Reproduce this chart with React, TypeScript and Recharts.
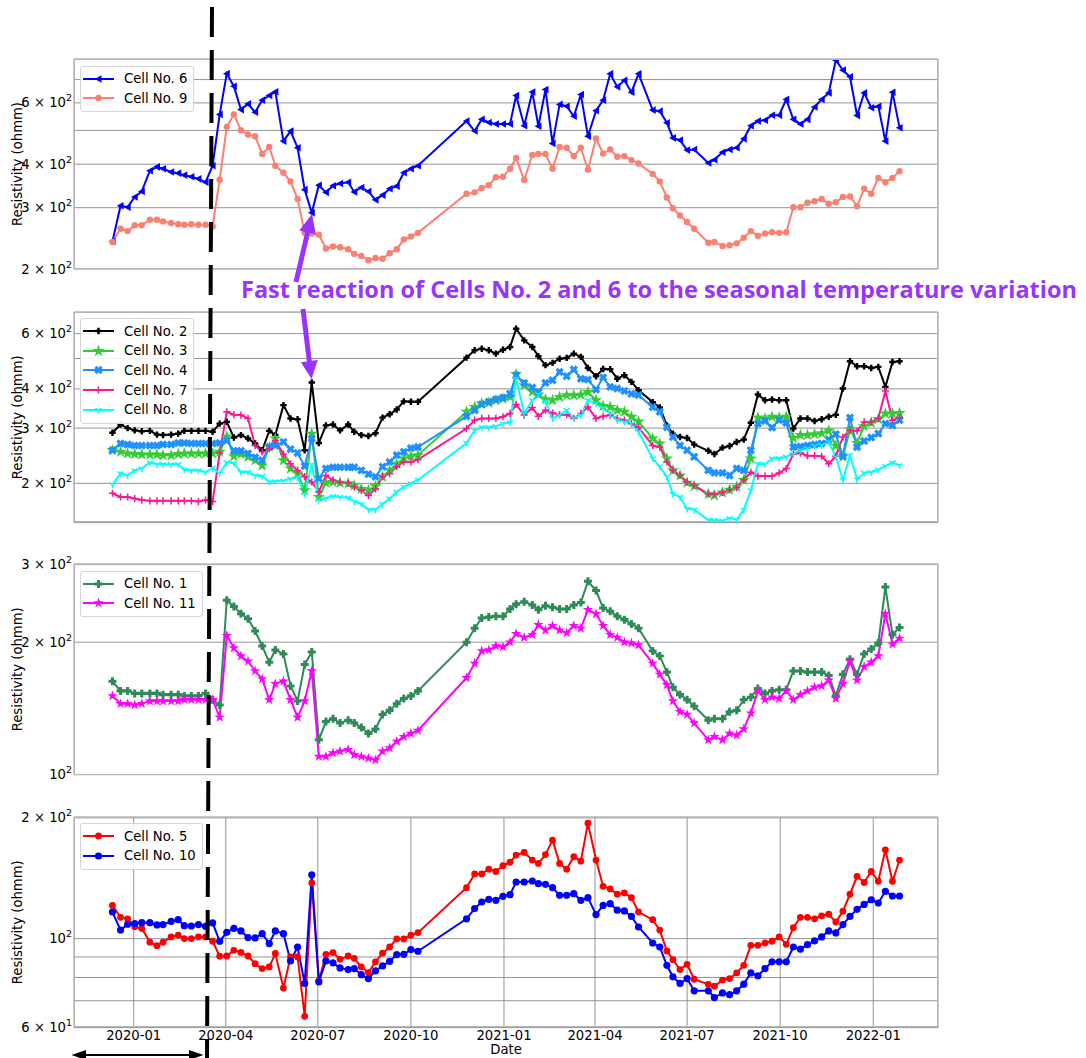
import { LineChart, Line, XAxis, YAxis, CartesianGrid } from 'recharts'

// measurement dates (weekly readings, gap in autumn 2020)
const DATES = [
  '2019-12-11', '2019-12-19', '2019-12-26', '2020-01-02', '2020-01-09', '2020-01-17', '2020-01-24', '2020-01-30', '2020-02-07', '2020-02-14',
  '2020-02-20', '2020-02-27', '2020-03-05', '2020-03-12', '2020-03-19', '2020-03-26', '2020-04-02', '2020-04-09', '2020-04-16', '2020-04-23',
  '2020-04-30', '2020-05-07', '2020-05-14', '2020-05-20', '2020-05-28', '2020-06-04', '2020-06-11', '2020-06-18', '2020-06-25', '2020-07-02',
  '2020-07-09', '2020-07-16', '2020-07-23', '2020-07-31', '2020-08-06', '2020-08-13', '2020-08-20', '2020-08-27', '2020-09-03', '2020-09-10',
  '2020-09-17', '2020-09-24', '2020-10-01', '2020-10-08', '2020-11-25', '2020-12-03', '2020-12-10', '2020-12-17', '2020-12-24', '2020-12-31',
  '2021-01-07', '2021-01-13', '2021-01-21', '2021-01-29', '2021-02-04', '2021-02-11', '2021-02-18', '2021-02-25', '2021-03-04', '2021-03-11',
  '2021-03-18', '2021-03-25', '2021-04-02', '2021-04-09', '2021-04-16', '2021-04-23', '2021-04-30', '2021-05-07', '2021-05-14', '2021-05-28',
  '2021-06-04', '2021-06-11', '2021-06-17', '2021-06-24', '2021-07-01', '2021-07-08', '2021-07-22', '2021-07-28', '2021-08-05', '2021-08-12',
  '2021-08-19', '2021-08-26', '2021-09-02', '2021-09-09', '2021-09-16', '2021-09-23', '2021-09-30', '2021-10-07', '2021-10-14', '2021-10-21',
  '2021-10-28', '2021-11-04', '2021-11-11', '2021-11-18', '2021-11-25', '2021-12-02', '2021-12-09', '2021-12-16', '2021-12-23', '2021-12-30',
  '2022-01-06', '2022-01-13', '2022-01-20', '2022-01-27',
]

const CELL_6 = [
  240, 304, 301, 322, 334, 383, 393, 388, 380, 377, 372, 368, 363, 355, 396, 556, 728, 670, 574, 596,
  564, 611, 630, 646, 466, 498, 446, 338, 290, 348, 332, 347, 352, 355, 333, 343, 334, 316, 326, 340,
  346, 378, 388, 396, 532, 498, 538, 527, 522, 522, 522, 630, 516, 645, 514, 655, 459, 594, 587, 549,
  634, 481, 570, 611, 727, 667, 697, 644, 727, 572, 568, 526, 476, 469, 439, 441, 403, 412, 433, 441,
  446, 473, 516, 532, 535, 553, 553, 614, 538, 522, 538, 584, 614, 641, 796, 745, 713, 552, 641, 581,
  587, 466, 644, 509,
]
const CELL_9 = [
  239, 261, 257, 267, 267, 277, 277, 274, 271, 269, 268, 269, 268, 268, 265, 361, 512, 556, 501, 487,
  481, 428, 448, 396, 378, 357, 318, 254, 253, 251, 229, 232, 231, 228, 221, 218, 212, 215, 214, 222,
  228, 243, 248, 254, 329, 332, 342, 348, 367, 368, 388, 417, 360, 425, 428, 428, 388, 448, 446, 422,
  446, 386, 474, 429, 441, 420, 422, 411, 402, 375, 357, 321, 299, 285, 273, 261, 238, 239, 233, 234,
  237, 246, 257, 249, 253, 255, 254, 255, 301, 301, 310, 313, 318, 308, 311, 322, 323, 303, 340, 329,
  365, 355, 365, 382,
]
const CELL_2 = [
  290, 308, 300, 295, 293, 294, 286, 285, 286, 288, 294, 294, 294, 294, 292, 310, 314, 280, 285, 278,
  268, 255, 294, 285, 355, 322, 320, 255, 419, 269, 306, 308, 295, 308, 292, 285, 283, 289, 324, 332,
  344, 365, 364, 364, 503, 531, 537, 531, 518, 533, 544, 622, 571, 544, 508, 476, 484, 499, 502, 518,
  506, 466, 439, 463, 462, 431, 442, 421, 396, 363, 349, 306, 288, 281, 279, 266, 254, 248, 260, 263,
  271, 276, 312, 384, 368, 370, 368, 368, 299, 322, 322, 316, 320, 326, 331, 401, 490, 472, 472, 466,
  470, 406, 487, 490,
]
const CELL_3 = [
  255, 252, 249, 248, 247, 247, 247, 246, 246, 248, 249, 249, 249, 249, 249, 252, 282, 244, 248, 243,
  237, 228, 261, 278, 237, 223, 215, 190, 288, 181, 201, 202, 201, 200, 197, 192, 190, 196, 210, 220,
  231, 240, 244, 246, 338, 350, 359, 361, 368, 372, 377, 445, 411, 392, 384, 371, 368, 377, 382, 382,
  383, 391, 368, 353, 350, 342, 338, 326, 315, 278, 268, 240, 220, 212, 201, 196, 185, 183, 187, 191,
  195, 205, 240, 324, 322, 326, 324, 326, 279, 285, 285, 287, 289, 294, 264, 243, 297, 269, 304, 312,
  320, 334, 334, 335,
]
const CELL_4 = [
  255, 268, 266, 264, 264, 264, 264, 266, 266, 269, 269, 268, 268, 268, 268, 269, 274, 254, 254, 249,
  242, 237, 261, 264, 271, 257, 250, 227, 278, 207, 223, 225, 225, 225, 225, 220, 214, 210, 226, 234,
  246, 252, 259, 261, 327, 342, 357, 364, 370, 375, 386, 442, 418, 404, 391, 418, 426, 453, 439, 461,
  431, 428, 398, 435, 406, 401, 394, 386, 382, 350, 338, 302, 281, 264, 255, 243, 220, 216, 216, 212,
  223, 220, 255, 310, 316, 301, 318, 312, 261, 262, 264, 266, 268, 276, 287, 244, 324, 261, 273, 280,
  288, 310, 306, 318,
]
const CELL_7 = [
  186, 181, 181, 179, 177, 176, 176, 176, 176, 176, 176, 176, 175, 177, 175, 250, 338, 331, 330, 322,
  264, 252, 258, 274, 248, 231, 220, 210, 202, 188, 212, 205, 202, 200, 195, 190, 183, 192, 210, 215,
  226, 234, 234, 238, 299, 318, 322, 322, 322, 326, 334, 357, 330, 349, 327, 342, 335, 331, 331, 322,
  334, 350, 322, 327, 330, 322, 318, 310, 302, 264, 261, 234, 220, 212, 202, 197, 185, 185, 187, 191,
  194, 205, 217, 211, 211, 211, 216, 223, 248, 250, 245, 245, 244, 231, 244, 281, 295, 294, 314, 314,
  322, 394, 318, 324,
]
const CELL_8 = [
  198, 215, 212, 220, 223, 233, 230, 230, 230, 230, 221, 220, 220, 217, 224, 215, 233, 232, 217, 217,
  212, 211, 202, 203, 204, 207, 209, 185, 230, 177, 179, 182, 181, 180, 175, 172, 165, 165, 172, 179,
  188, 195, 200, 205, 269, 295, 302, 302, 304, 310, 312, 431, 334, 368, 384, 364, 322, 330, 342, 322,
  330, 368, 359, 347, 334, 318, 314, 310, 292, 240, 226, 210, 185, 181, 166, 165, 153, 153, 152, 155,
  153, 165, 190, 231, 230, 240, 240, 243, 248, 255, 258, 263, 264, 271, 243, 205, 246, 206, 216, 217,
  221, 227, 233, 228,
]
const CELL_1 = [
  163, 155, 155, 153, 153, 153, 153, 152, 152, 152, 151, 151, 151, 153, 148, 144, 249, 241, 232, 226,
  212, 196, 180, 192, 188, 159, 147, 178, 190, 120, 132, 134, 131, 133, 131, 128, 124, 127, 137, 140,
  145, 149, 151, 155, 200, 215, 227, 228, 229, 229, 238, 244, 247, 243, 237, 242, 240, 238, 238, 243,
  246, 275, 262, 239, 235, 229, 225, 220, 215, 191, 186, 171, 158, 152, 148, 143, 133, 134, 134, 139,
  140, 148, 150, 157, 153, 155, 156, 156, 172, 172, 171, 171, 171, 168, 151, 169, 183, 169, 188, 193,
  199, 267, 208, 216,
]
const CELL_11 = [
  151, 145, 145, 144, 145, 147, 147, 147, 147, 147, 148, 148, 148, 148, 148, 135, 207, 194, 186, 181,
  172, 165, 148, 161, 163, 148, 135, 147, 172, 110, 110, 112, 113, 114, 111, 110, 109, 108, 113, 115,
  119, 122, 124, 126, 166, 179, 191, 192, 196, 195, 200, 209, 205, 208, 219, 213, 218, 213, 210, 218,
  215, 237, 232, 218, 208, 205, 200, 199, 197, 179, 169, 160, 147, 139, 137, 131, 120, 122, 120, 124,
  123, 127, 138, 155, 148, 150, 149, 155, 148, 152, 155, 158, 159, 164, 149, 161, 181, 164, 176, 180,
  186, 232, 198, 204,
]
const CELL_5 = [
  121, 113, 112, 107, 106, 98, 96, 98, 101, 102, 100, 100, 101, 101, 98.5, 90.4, 90.5, 93.5, 92.4, 90.5,
  86.6, 84.2, 85, 91.8, 75.3, 90, 90, 64, 137.6, 78.4, 91.4, 92.3, 88.8, 90.5, 89.3, 85, 82.3, 87.5, 92, 95.3,
  99.8, 99.8, 102, 103.5, 134, 145, 145, 149, 147, 152, 155, 161.5, 164, 157, 154, 162, 176, 154, 149, 160,
  156, 194, 157, 135, 133, 129, 130, 126.5, 116.5, 111.5, 105, 93.2, 88.6, 83.7, 86.3, 79.2, 76.9, 76.1, 78.8, 79.5,
  82.1, 85.8, 96.2, 96.2, 97.5, 98.5, 101, 96.8, 106.5, 113, 113, 112, 114, 115, 110, 117, 129, 143, 138, 147,
  139, 166.5, 139, 157,
]
const CELL_10 = [
  116.5, 105, 108.6, 109, 109.6, 109.6, 108.2, 108.4, 110.4, 111.5, 107.7, 107.5, 108.4, 107.3, 109.4, 98.5, 103.7, 106.1, 104.5, 100.6,
  100.4, 102.9, 97.2, 104.5, 102.9, 88, 95.3, 77.3, 144.3, 78, 88, 87, 84.5, 83.7, 84.2, 81.3, 79.5, 83.1, 85.5, 87.8,
  91.2, 91.4, 93.9, 93, 112, 118.8, 123.4, 125.3, 124.6, 127.5, 128.7, 138.4, 138.4, 139.2, 137.1, 136.6, 134, 128.2, 128.2, 129.4,
  124.6, 126.5, 114.8, 121, 122.2, 117.7, 117.2, 113.6, 106.9, 97.5, 95.3, 85.8, 80.3, 77.3, 79.5, 74.1, 74.1, 71.3, 73.2, 72.5,
  74.1, 77, 82.1, 80.8, 84.2, 87.5, 87.5, 87.5, 95.3, 94.1, 96.6, 98.7, 101, 104.5, 103.3, 108.4, 113.6, 118.3, 121.7, 125,
  122.7, 131.2, 127.7, 127.7,
]

const X_TICK_DATES = ['2020-01-01', '2020-04-01', '2020-07-01', '2020-10-01', '2021-01-01', '2021-04-01', '2021-07-01', '2021-10-01', '2022-01-01']
const X_TICKS = X_TICK_DATES.map(d => Date.parse(d))
const X_DOMAIN = [Date.parse('2019-11-03'), Date.parse('2022-03-06')]

const FONT = '"DejaVu Sans", sans-serif'
const FS = 13.2
const PURPLE = '#9933ff'
const MT = 12 // room above each plot so edge tick labels are not clipped

type Shape = 'triLeft' | 'circle' | 'plusFilled' | 'star' | 'xFilled' | 'plus' | 'triDown'
interface Series { key: string; name: string; color: string; shape: Shape; size: number }

const rows = DATES.map((d, i) => ({
  t: Date.parse(d),
  c1: CELL_1[i], c2: CELL_2[i], c3: CELL_3[i], c4: CELL_4[i], c5: CELL_5[i], c6: CELL_6[i],
  c7: CELL_7[i], c8: CELL_8[i], c9: CELL_9[i], c10: CELL_10[i], c11: CELL_11[i],
}))

const PANELS = [
  {
    top: 59.3, height: 210, domain: [200, 802], ticks: [200, 300, 400, 500, 600, 700], labels: [200, 300, 400, 600],
    series: [
      { key: 'c6', name: 'Cell No. 6', color: '#0000ff', shape: 'triLeft', size: 3.8 },
      { key: 'c9', name: 'Cell No. 9', color: '#fa8072', shape: 'circle', size: 3.2 },
    ] as Series[],
  },
  {
    top: 311.7, height: 210.6, domain: [150, 703], ticks: [200, 300, 400, 500, 600], labels: [200, 300, 400, 600],
    series: [
      { key: 'c2', name: 'Cell No. 2', color: '#000000', shape: 'plusFilled', size: 3.2 },
      { key: 'c3', name: 'Cell No. 3', color: '#32cd32', shape: 'star', size: 6.5 },
      { key: 'c4', name: 'Cell No. 4', color: '#1e90ff', shape: 'xFilled', size: 3.6 },
      { key: 'c7', name: 'Cell No. 7', color: '#ff1493', shape: 'plus', size: 3.6 },
      { key: 'c8', name: 'Cell No. 8', color: '#00ffff', shape: 'triDown', size: 3.6 },
    ] as Series[],
  },
  {
    top: 564.3, height: 210.7, domain: [100, 301], ticks: [100, 200, 300], labels: [100, 200, 300],
    series: [
      { key: 'c1', name: 'Cell No. 1', color: '#2e8b57', shape: 'plusFilled', size: 4 },
      { key: 'c11', name: 'Cell No. 11', color: '#ff00ff', shape: 'star', size: 5.5 },
    ] as Series[],
  },
  {
    top: 816.7, height: 210.6, domain: [60, 201], ticks: [60, 70, 80, 90, 100, 200], labels: [60, 100, 200],
    series: [
      { key: 'c5', name: 'Cell No. 5', color: '#ff0000', shape: 'circle', size: 3.4 },
      { key: 'c10', name: 'Cell No. 10', color: '#0000ff', shape: 'circle', size: 3.6 },
    ] as Series[],
  },
]

function starPoints(cx: number, cy: number, r: number) {
  const pts: string[] = []
  for (let k = 0; k < 10; k++) {
    const rr = k % 2 === 0 ? r : r * 0.382
    const a = -Math.PI / 2 + (k * Math.PI) / 5
    pts.push(`${cx + rr * Math.cos(a)},${cy + rr * Math.sin(a)}`)
  }
  return pts.join(' ')
}

function plusPoints(cx: number, cy: number, s: number, rot: number) {
  const t = s * 0.38
  const base = [[-t, -s], [t, -s], [t, -t], [s, -t], [s, t], [t, t], [t, s], [-t, s], [-t, t], [-s, t], [-s, -t], [-t, -t]]
  const c = Math.cos(rot), sn = Math.sin(rot)
  return base.map(([x, y]) => `${cx + x * c - y * sn},${cy + x * sn + y * c}`).join(' ')
}

function Marker({ cx, cy, shape, color, size }: { cx: number; cy: number; shape: Shape; color: string; size: number }) {
  if (cx == null || cy == null || Number.isNaN(cx) || Number.isNaN(cy)) return <g />
  switch (shape) {
    case 'circle':
      return <circle cx={cx} cy={cy} r={size} fill={color} />
    case 'triLeft':
      return <polygon points={`${cx - size},${cy} ${cx + size * 0.8},${cy - size} ${cx + size * 0.8},${cy + size}`} fill={color} />
    case 'star':
      return <polygon points={starPoints(cx, cy, size)} fill={color} />
    case 'plusFilled':
      return <polygon points={plusPoints(cx, cy, size, 0)} fill={color} />
    case 'xFilled':
      return <polygon points={plusPoints(cx, cy, size * 1.2, Math.PI / 4)} fill={color} />
    case 'plus':
      return (
        <g stroke={color} strokeWidth={1.5}>
          <line x1={cx - size} y1={cy} x2={cx + size} y2={cy} />
          <line x1={cx} y1={cy - size} x2={cx} y2={cy + size} />
        </g>
      )
    case 'triDown':
      return (
        <g stroke={color} strokeWidth={1.5}>
          <line x1={cx} y1={cy} x2={cx} y2={cy + size} />
          <line x1={cx} y1={cy} x2={cx - size * 0.87} y2={cy - size * 0.5} />
          <line x1={cx} y1={cy} x2={cx + size * 0.87} y2={cy - size * 0.5} />
        </g>
      )
  }
  return <g />
}

function LogTick(props: any) {
  const { x, y, payload, labels } = props
  const v = payload.value as number
  if (!labels.includes(v)) return <g />
  const e = Math.floor(Math.log10(v) + 1e-9)
  const m = Math.round(v / 10 ** e)
  return (
    <text x={x} y={y} dy={4.6} textAnchor="end" fontFamily={FONT} fontSize={FS} fill="#000">
      {m !== 1 ? `${m} × 10` : '10'}
      <tspan dy={-6} fontSize={9.5}>{e}</tspan>
    </text>
  )
}

function fmtDate(t: number) {
  const d = new Date(t)
  return `${d.getUTCFullYear()}-${String(d.getUTCMonth() + 1).padStart(2, '0')}`
}

function LegendBox({ series }: { series: Series[] }) {
  return (
    <div style={{
      position: 'absolute', left: 80, top: MT + 6.5, background: 'rgba(255,255,255,0.85)',
      border: '1px solid #d6d6d6', borderRadius: 3, padding: '2px 6px 3px 2px',
      fontFamily: FONT, fontSize: FS, color: '#000',
    }}>
      {series.map(s => (
        <div key={s.key} style={{ display: 'flex', alignItems: 'center', height: 19.7 }}>
          <svg width={31} height={16} style={{ display: 'block' }}>
            <line x1={0} y1={8} x2={31} y2={8} stroke={s.color} strokeWidth={2} />
            <Marker cx={15.5} cy={8} shape={s.shape} color={s.color} size={s.size} />
          </svg>
          <span style={{ marginLeft: 10, whiteSpace: 'nowrap' }}>{s.name}</span>
        </div>
      ))}
    </div>
  )
}

function Panel({ p, last }: { p: typeof PANELS[number]; last: boolean }) {
  const axisH = last ? 26 : 1
  const mb = last ? 5 : 8
  const h = MT + p.height + axisH + mb
  return (
    <div style={{ position: 'absolute', left: 0, top: p.top - MT, width: 1086, height: h }}>
      <LineChart width={1086} height={h} data={rows} margin={{ top: MT, right: 148, left: 10, bottom: mb }}>
        <CartesianGrid stroke="#7a7a7a" strokeOpacity={0.8} />
        <XAxis
          dataKey="t" type="number" domain={X_DOMAIN} ticks={X_TICKS} allowDataOverflow interval={0}
          height={axisH} axisLine={false} tickLine={false} tickSize={0} tickMargin={3}
          tick={last ? { fill: '#000', fontSize: FS, fontFamily: FONT } : false}
          tickFormatter={fmtDate}
          label={last ? { value: 'Date', position: 'insideBottom', offset: 0, fill: '#000', fontSize: FS, fontFamily: FONT } : undefined}
        />
        <YAxis
          scale="log" domain={p.domain} ticks={p.ticks} allowDataOverflow interval={0} width={64}
          axisLine={false} tickLine={false} tickSize={0} tickMargin={2}
          tick={(tp: any) => <LogTick {...tp} labels={p.labels} />}
          label={{ value: 'Resistivity (ohmm)', angle: -90, position: 'insideLeft', offset: 7, fill: '#000', fontSize: FS, fontFamily: FONT, style: { textAnchor: 'middle' } }}
        />
        {p.series.map(s => (
          <Line
            key={s.key} dataKey={s.key} name={s.name} type="linear" stroke={s.color} strokeWidth={2}
            isAnimationActive={false}
            dot={(dp: any) => <Marker key={`${s.key}-${dp.index}`} cx={dp.cx} cy={dp.cy} shape={s.shape} color={s.color} size={s.size} />}
          />
        ))}
      </LineChart>
      <div style={{ position: 'absolute', left: 74, top: MT, width: 864, height: p.height, border: '1px solid #b5b5b5', boxSizing: 'border-box', pointerEvents: 'none' }} />
      <LegendBox series={p.series} />
    </div>
  )
}

function arrowPolygon(x1: number, y1: number, x2: number, y2: number, shaft: number, headLen: number, headW: number) {
  const dx = x2 - x1, dy = y2 - y1
  const len = Math.hypot(dx, dy)
  const ux = dx / len, uy = dy / len
  const nx = -uy, ny = ux
  const bx = x2 - ux * headLen, by = y2 - uy * headLen
  const pts = [
    [x1 + nx * shaft / 2, y1 + ny * shaft / 2],
    [bx + nx * shaft / 2, by + ny * shaft / 2],
    [bx + nx * headW / 2, by + ny * headW / 2],
    [x2, y2],
    [bx - nx * headW / 2, by - ny * headW / 2],
    [bx - nx * shaft / 2, by - ny * shaft / 2],
    [x1 - nx * shaft / 2, y1 - ny * shaft / 2],
  ]
  return pts.map(([a, b]) => `${a},${b}`).join(' ')
}

export default function App() {
  return (
    <div style={{ position: 'absolute', left: 0, top: 0, width: 1086, height: 1058, background: '#fff', overflow: 'hidden' }}>
      {PANELS.map((p, i) => <Panel key={i} p={p} last={i === PANELS.length - 1} />)}
      <svg width={1086} height={1058} style={{ position: 'absolute', left: 0, top: 0, pointerEvents: 'none' }}>
        <line x1={212} y1={7} x2={207} y2={1058} stroke="#000" strokeWidth={4} strokeDasharray="30 13" />
        <polygon points={arrowPolygon(296, 282, 312, 214, 5, 19, 17)} fill={PURPLE} />
        <polygon points={arrowPolygon(303, 309, 311.5, 379, 5, 18, 17)} fill={PURPLE} />
        <text x={241} y={298} fontFamily='"Open Sans", sans-serif' fontWeight={700} fontSize={23} fill={PURPLE}
          textLength={836} lengthAdjust="spacingAndGlyphs">
          Fast reaction of Cells No. 2 and 6 to the seasonal temperature variation
        </text>
        <line x1={84} y1={1055} x2={191} y2={1055} stroke="#000" strokeWidth={2} />
        <polygon points="71.5,1055 86,1050 86,1060" fill="#000" />
        <polygon points="203.5,1055 189,1050 189,1060" fill="#000" />
      </svg>
    </div>
  )
}
